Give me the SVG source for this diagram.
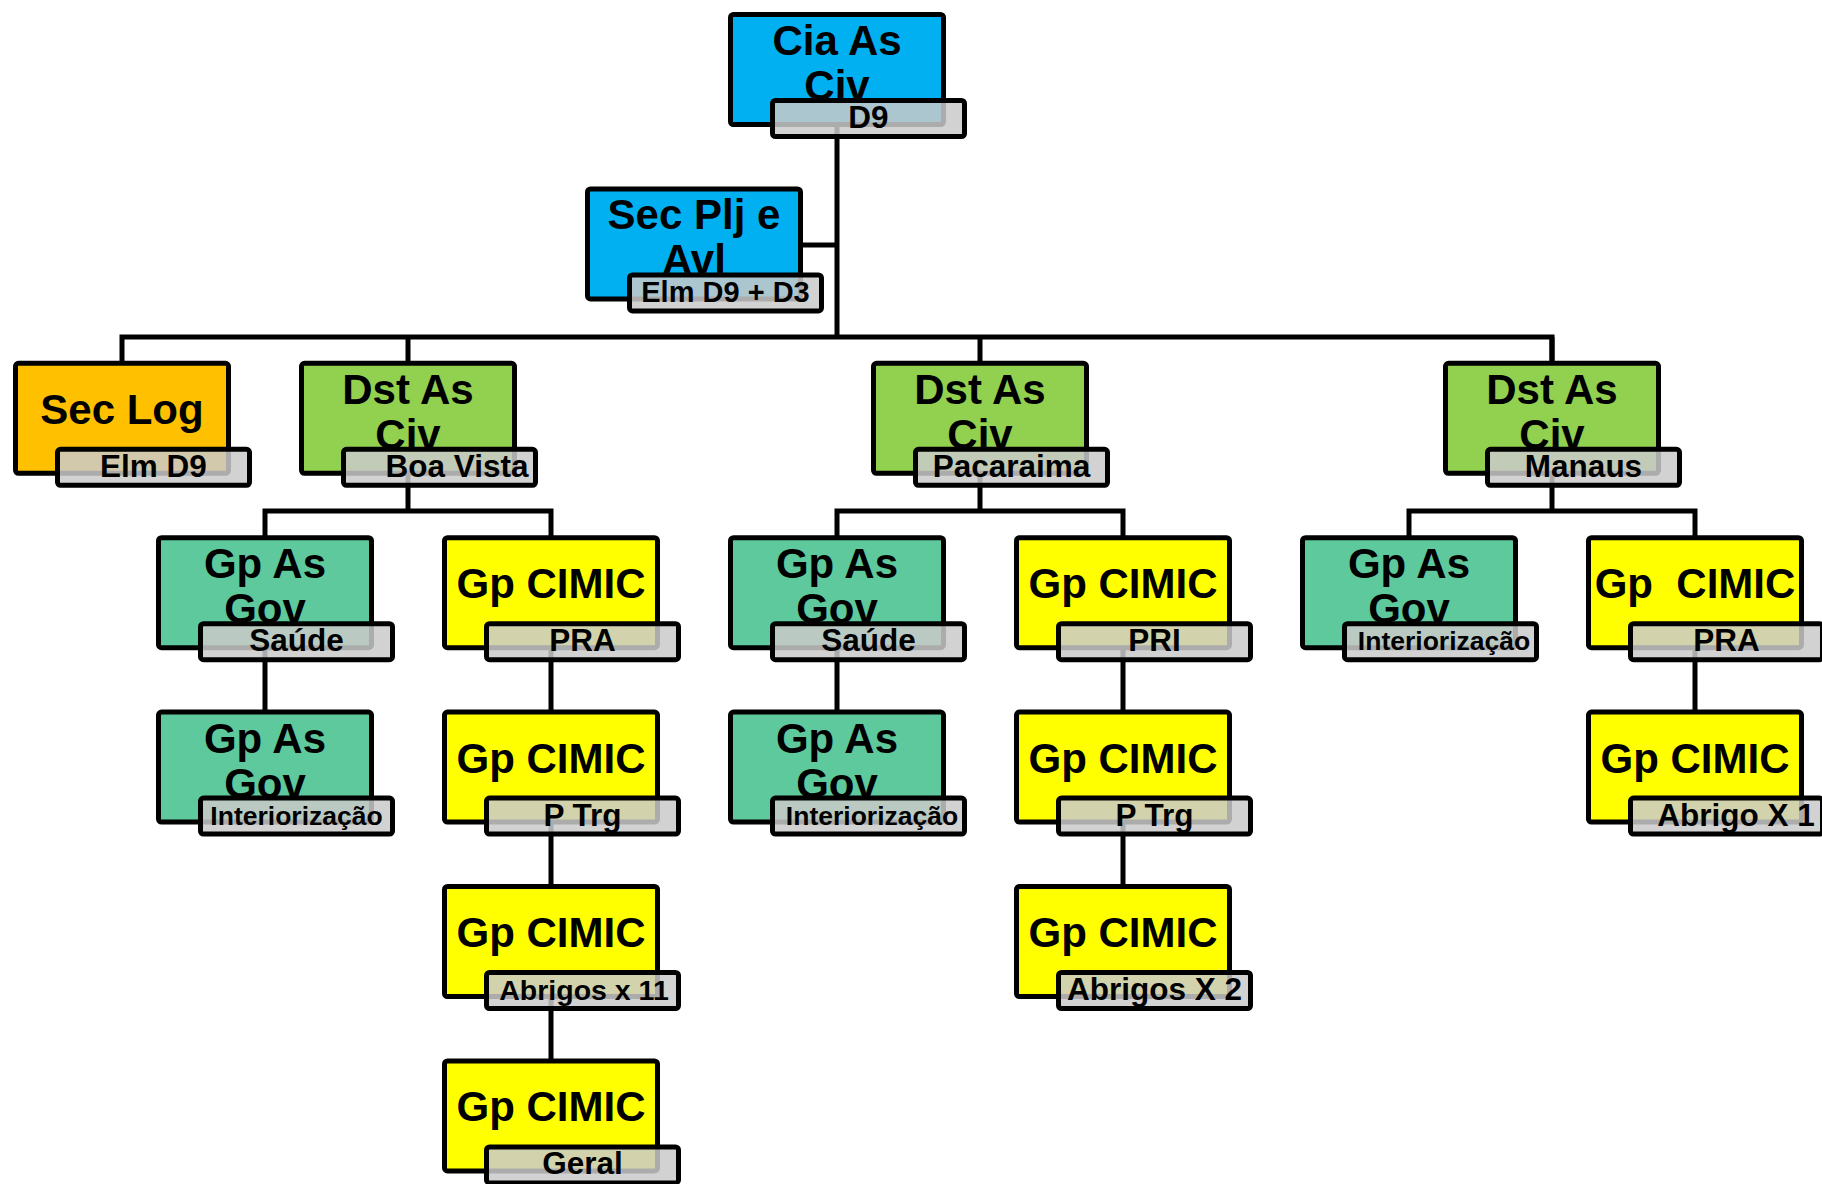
<svg xmlns="http://www.w3.org/2000/svg" width="1822" height="1184" viewBox="0 0 1822 1184">
<style>
.box{stroke:#000;stroke-width:5}
.lbl{fill:#cacaca;fill-opacity:0.85;stroke:#000;stroke-width:5}
.cyan{fill:#00b0f0}.orange{fill:#ffc000}.green{fill:#92d050}.teal{fill:#5dc99c}.yellow{fill:#ffff00}
.main{font-family:"Liberation Sans",Arial,sans-serif;font-weight:bold;font-size:42px;text-anchor:middle;fill:#000}
.sub{font-family:"Liberation Sans",Arial,sans-serif;font-weight:bold;font-size:31.5px;text-anchor:middle;fill:#000}
.conn{fill:none;stroke:#000;stroke-width:5;stroke-linejoin:miter}
</style>
<rect width="1822" height="1184" fill="#fff"/>
<g id="connectors" class="conn">
<path d="M837 70V337"/>
<path d="M800 245H837"/>
<path d="M122 362V337H1552V362"/>
<path d="M408 337V511"/>
<path d="M980 337V511"/>
<path d="M1552 337V511"/>
<path d="M265 536V511H551V536"/>
<path d="M837 536V511H1123V536"/>
<path d="M1409 536V511H1695V536"/>
<path d="M265 536V711"/>
<path d="M551 536V1060"/>
<path d="M837 536V711"/>
<path d="M1123 536V885"/>
<path d="M1695 536V711"/>
</g>
<g id="cia-as-civ" transform="translate(728,12)">
<rect class="box cyan" x="2.5" y="2.5" width="213" height="110" rx="3"/>
<text class="main" x="109" y="43">Cia As</text>
<text class="main" x="109" y="88">Civ</text>
<rect class="lbl" x="44.5" y="88.5" width="192" height="36" rx="3"/>
<text class="sub" x="140.5" y="116">D9</text>
</g>
<g id="sec-plj-avl" transform="translate(585,186.4)">
<rect class="box cyan" x="2.5" y="2.5" width="213" height="110" rx="3"/>
<text class="main" x="109" y="43">Sec Plj e</text>
<text class="main" x="109" y="88">Avl</text>
<rect class="lbl" x="44.5" y="88.5" width="192" height="36" rx="3"/>
<text class="sub" x="140.5" y="116" style="font-size:29px">Elm D9 + D3</text>
</g>
<g id="sec-log" transform="translate(13,360.8)">
<rect class="box orange" x="2.5" y="2.5" width="213" height="110" rx="3"/>
<text class="main" x="109" y="63">Sec Log</text>
<rect class="lbl" x="44.5" y="88.5" width="192" height="36" rx="3"/>
<text class="sub" x="140.5" y="116">Elm D9</text>
</g>
<g id="dst-boa-vista" transform="translate(299,360.8)">
<rect class="box green" x="2.5" y="2.5" width="213" height="110" rx="3"/>
<text class="main" x="109" y="43">Dst As</text>
<text class="main" x="109" y="88">Civ</text>
<rect class="lbl" x="44.5" y="88.5" width="192" height="36" rx="3"/>
<text class="sub" x="158" y="116">Boa Vista</text>
</g>
<g id="dst-pacaraima" transform="translate(871,360.8)">
<rect class="box green" x="2.5" y="2.5" width="213" height="110" rx="3"/>
<text class="main" x="109" y="43">Dst As</text>
<text class="main" x="109" y="88">Civ</text>
<rect class="lbl" x="44.5" y="88.5" width="192" height="36" rx="3"/>
<text class="sub" x="140.5" y="116">Pacaraima</text>
</g>
<g id="dst-manaus" transform="translate(1443,360.8)">
<rect class="box green" x="2.5" y="2.5" width="213" height="110" rx="3"/>
<text class="main" x="109" y="43">Dst As</text>
<text class="main" x="109" y="88">Civ</text>
<rect class="lbl" x="44.5" y="88.5" width="192" height="36" rx="3"/>
<text class="sub" x="140.5" y="116">Manaus</text>
</g>
<g id="bv-gov-saude" transform="translate(156,535.2)">
<rect class="box teal" x="2.5" y="2.5" width="213" height="110" rx="3"/>
<text class="main" x="109" y="43">Gp As</text>
<text class="main" x="109" y="88">Gov</text>
<rect class="lbl" x="44.5" y="88.5" width="192" height="36" rx="3"/>
<text class="sub" x="140.5" y="116">Saúde</text>
</g>
<g id="bv-cimic-pra" transform="translate(442,535.2)">
<rect class="box yellow" x="2.5" y="2.5" width="213" height="110" rx="3"/>
<text class="main" x="109" y="63">Gp CIMIC</text>
<rect class="lbl" x="44.5" y="88.5" width="192" height="36" rx="3"/>
<text class="sub" x="140.5" y="116">PRA</text>
</g>
<g id="pac-gov-saude" transform="translate(728,535.2)">
<rect class="box teal" x="2.5" y="2.5" width="213" height="110" rx="3"/>
<text class="main" x="109" y="43">Gp As</text>
<text class="main" x="109" y="88">Gov</text>
<rect class="lbl" x="44.5" y="88.5" width="192" height="36" rx="3"/>
<text class="sub" x="140.5" y="116">Saúde</text>
</g>
<g id="pac-cimic-pri" transform="translate(1014,535.2)">
<rect class="box yellow" x="2.5" y="2.5" width="213" height="110" rx="3"/>
<text class="main" x="109" y="63">Gp CIMIC</text>
<rect class="lbl" x="44.5" y="88.5" width="192" height="36" rx="3"/>
<text class="sub" x="140.5" y="116">PRI</text>
</g>
<g id="man-gov-int" transform="translate(1300,535.2)">
<rect class="box teal" x="2.5" y="2.5" width="213" height="110" rx="3"/>
<text class="main" x="109" y="43">Gp As</text>
<text class="main" x="109" y="88">Gov</text>
<rect class="lbl" x="44.5" y="88.5" width="192" height="36" rx="3"/>
<text class="sub" x="144" y="115" style="font-size:26.5px">Interiorização</text>
</g>
<g id="man-cimic-pra" transform="translate(1586,535.2)">
<rect class="box yellow" x="2.5" y="2.5" width="213" height="110" rx="3"/>
<text class="main" x="109" y="63" xml:space="preserve" style="white-space:pre">Gp  CIMIC</text>
<rect class="lbl" x="44.5" y="88.5" width="192" height="36" rx="3"/>
<text class="sub" x="140.5" y="116">PRA</text>
</g>
<g id="bv-gov-int" transform="translate(156,709.6)">
<rect class="box teal" x="2.5" y="2.5" width="213" height="110" rx="3"/>
<text class="main" x="109" y="43">Gp As</text>
<text class="main" x="109" y="88">Gov</text>
<rect class="lbl" x="44.5" y="88.5" width="192" height="36" rx="3"/>
<text class="sub" x="140.5" y="115" style="font-size:26.5px">Interiorização</text>
</g>
<g id="bv-cimic-ptrg" transform="translate(442,709.6)">
<rect class="box yellow" x="2.5" y="2.5" width="213" height="110" rx="3"/>
<text class="main" x="109" y="63">Gp CIMIC</text>
<rect class="lbl" x="44.5" y="88.5" width="192" height="36" rx="3"/>
<text class="sub" x="140.5" y="116">P Trg</text>
</g>
<g id="pac-gov-int" transform="translate(728,709.6)">
<rect class="box teal" x="2.5" y="2.5" width="213" height="110" rx="3"/>
<text class="main" x="109" y="43">Gp As</text>
<text class="main" x="109" y="88">Gov</text>
<rect class="lbl" x="44.5" y="88.5" width="192" height="36" rx="3"/>
<text class="sub" x="144" y="115" style="font-size:26.5px">Interiorização</text>
</g>
<g id="pac-cimic-ptrg" transform="translate(1014,709.6)">
<rect class="box yellow" x="2.5" y="2.5" width="213" height="110" rx="3"/>
<text class="main" x="109" y="63">Gp CIMIC</text>
<rect class="lbl" x="44.5" y="88.5" width="192" height="36" rx="3"/>
<text class="sub" x="140.5" y="116">P Trg</text>
</g>
<g id="man-cimic-abrigo" transform="translate(1586,709.6)">
<rect class="box yellow" x="2.5" y="2.5" width="213" height="110" rx="3"/>
<text class="main" x="109" y="63">Gp CIMIC</text>
<rect class="lbl" x="44.5" y="88.5" width="192" height="36" rx="3"/>
<text class="sub" x="150" y="116">Abrigo X 1</text>
</g>
<g id="bv-cimic-abrigos" transform="translate(442,884)">
<rect class="box yellow" x="2.5" y="2.5" width="213" height="110" rx="3"/>
<text class="main" x="109" y="63">Gp CIMIC</text>
<rect class="lbl" x="44.5" y="88.5" width="192" height="36" rx="3"/>
<text class="sub" x="142" y="116" style="font-size:28.5px">Abrigos x 11</text>
</g>
<g id="pac-cimic-abrigos" transform="translate(1014,884)">
<rect class="box yellow" x="2.5" y="2.5" width="213" height="110" rx="3"/>
<text class="main" x="109" y="63">Gp CIMIC</text>
<rect class="lbl" x="44.5" y="88.5" width="192" height="36" rx="3"/>
<text class="sub" x="140.5" y="116">Abrigos X 2</text>
</g>
<g id="bv-cimic-geral" transform="translate(442,1058.4)">
<rect class="box yellow" x="2.5" y="2.5" width="213" height="110" rx="3"/>
<text class="main" x="109" y="63">Gp CIMIC</text>
<rect class="lbl" x="44.5" y="88.5" width="192" height="36" rx="3"/>
<text class="sub" x="140.5" y="116">Geral</text>
</g>
</svg>
